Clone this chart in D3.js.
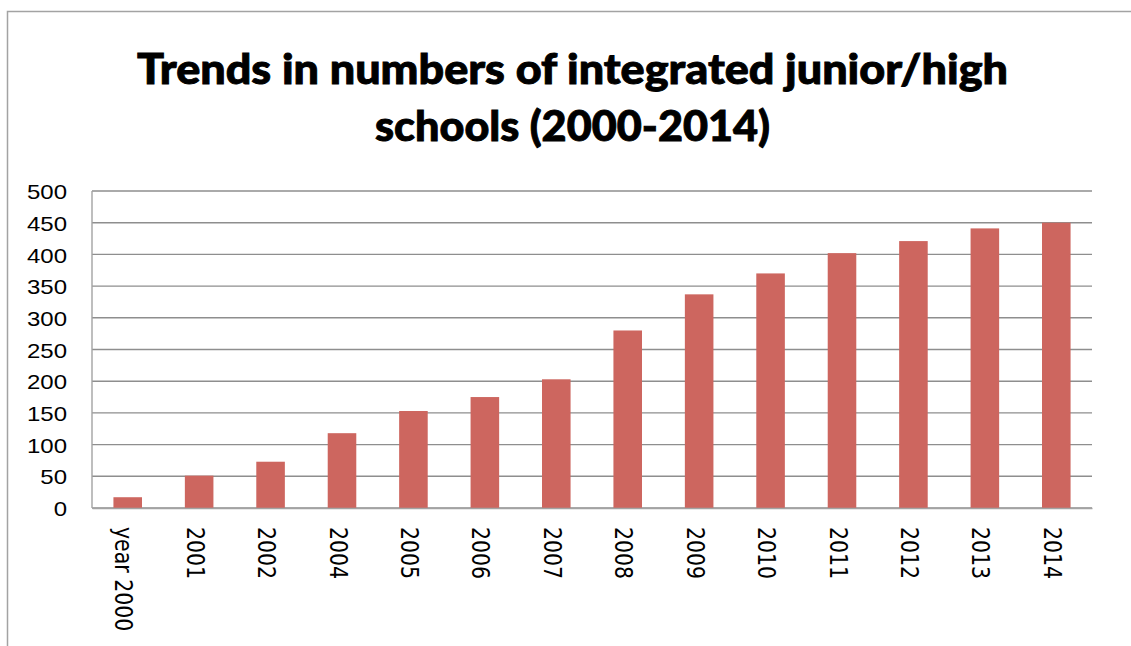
<!DOCTYPE html>
<html>
<head>
<meta charset="utf-8">
<script src="https://cdn.jsdelivr.net/npm/d3@7"></script>
<style>
  html, body { margin: 0; padding: 0; background: #fff; }
  svg { display: block; }
</style>
</head>
<body>
<script>
// Integrated junior/high schools per year
const years = ["year 2000", "2001", "2002", "2004", "2005", "2006", "2007",
               "2008", "2009", "2010", "2011", "2012", "2013", "2014"];
const schools = [17, 51, 73, 118, 153, 175, 203, 280, 337, 370, 402, 421, 441, 450];
const yTicks = [0, 50, 100, 150, 200, 250, 300, 350, 400, 450, 500];
const titleLines = ["Trends in numbers of integrated junior/high", "schools (2000-2014)"];

const W = 1131, H = 646;
const plot = { left: 92, right: 1092, top: 191, bottom: 508 };

const svg = d3.select("body").append("svg")
  .attr("width", W).attr("height", H);

// outer chart frame
svg.append("path")
  .attr("d", `M7.5,${H + 2} V11.5 H${W + 2}`)
  .attr("fill", "none")
  .attr("stroke", "#a3a3a3")
  .attr("stroke-width", 1.5);

// title
const titleWidths = [871, 395];
svg.append("g").selectAll("text")
  .data(titleLines)
  .join("text")
  .attr("x", 572.5)
  .attr("y", (d, i) => 84 + i * 57)
  .attr("text-anchor", "middle")
  .attr("font-family", "Lato, 'Liberation Sans', sans-serif")
  .attr("font-weight", 900)
  .attr("font-size", 42)
  .attr("textLength", (d, i) => titleWidths[i])
  .attr("lengthAdjust", "spacingAndGlyphs")
  .attr("fill", "#000")
  .attr("stroke", "#000")
  .attr("stroke-width", 0.9)
  .text(d => d);

const x = d3.scaleBand()
  .domain(years)
  .range([plot.left, plot.right])
  .paddingInner(0.6)
  .paddingOuter(0.3);

const y = d3.scaleLinear()
  .domain([0, 500])
  .range([plot.bottom, plot.top]);

// horizontal gridlines
svg.append("g").selectAll("line")
  .data(yTicks)
  .join("line")
  .attr("x1", plot.left).attr("x2", plot.right)
  .attr("y1", d => y(d)).attr("y2", d => y(d))
  .attr("stroke", "#8e8e8e")
  .attr("stroke-width", 1.4);

// vertical axis line
svg.append("line")
  .attr("x1", plot.left).attr("x2", plot.left)
  .attr("y1", y(500)).attr("y2", y(0))
  .attr("stroke", "#a3a3a3")
  .attr("stroke-width", 1.4);

// bars
svg.append("g").selectAll("rect")
  .data(schools)
  .join("rect")
  .attr("x", (d, i) => x(years[i]))
  .attr("width", x.bandwidth())
  .attr("y", d => y(d))
  .attr("height", d => y(0) - y(d))
  .attr("fill", "#cd665f");

// y axis labels
const yAxis = d3.axisLeft(y).tickValues(yTicks).tickSize(0).tickPadding(0);
const yg = svg.append("g")
  .attr("transform", `translate(67,0)`)
  .call(yAxis);
yg.select(".domain").remove();
yg.selectAll("text")
  .attr("font-family", "'Liberation Sans', Arial, sans-serif")
  .attr("font-size", 20)
  .attr("fill", "#000")
  .attr("transform", "scale(1.2,1)")
  .attr("x", 0)
  .attr("dy", "0.38em");

// x axis labels, rotated to read downward
const xAxis = d3.axisBottom(x).tickSize(0).tickPadding(0);
const xg = svg.append("g")
  .attr("transform", `translate(0,${plot.bottom})`)
  .call(xAxis);
xg.select(".domain")
  .attr("stroke", "#a3a3a3")
  .attr("stroke-width", 1.4);
xg.selectAll(".tick text")
  .attr("font-family", "'DejaVu Sans', sans-serif")
  .attr("font-size", 20.5)
  .attr("fill", "#000")
  .attr("text-anchor", "start")
  .attr("x", 0).attr("y", 0).attr("dy", 0)
  .attr("dominant-baseline", "central")
  .attr("transform", "translate(-3,19) scale(1.25,1) rotate(90)");
</script>
</body>
</html>
